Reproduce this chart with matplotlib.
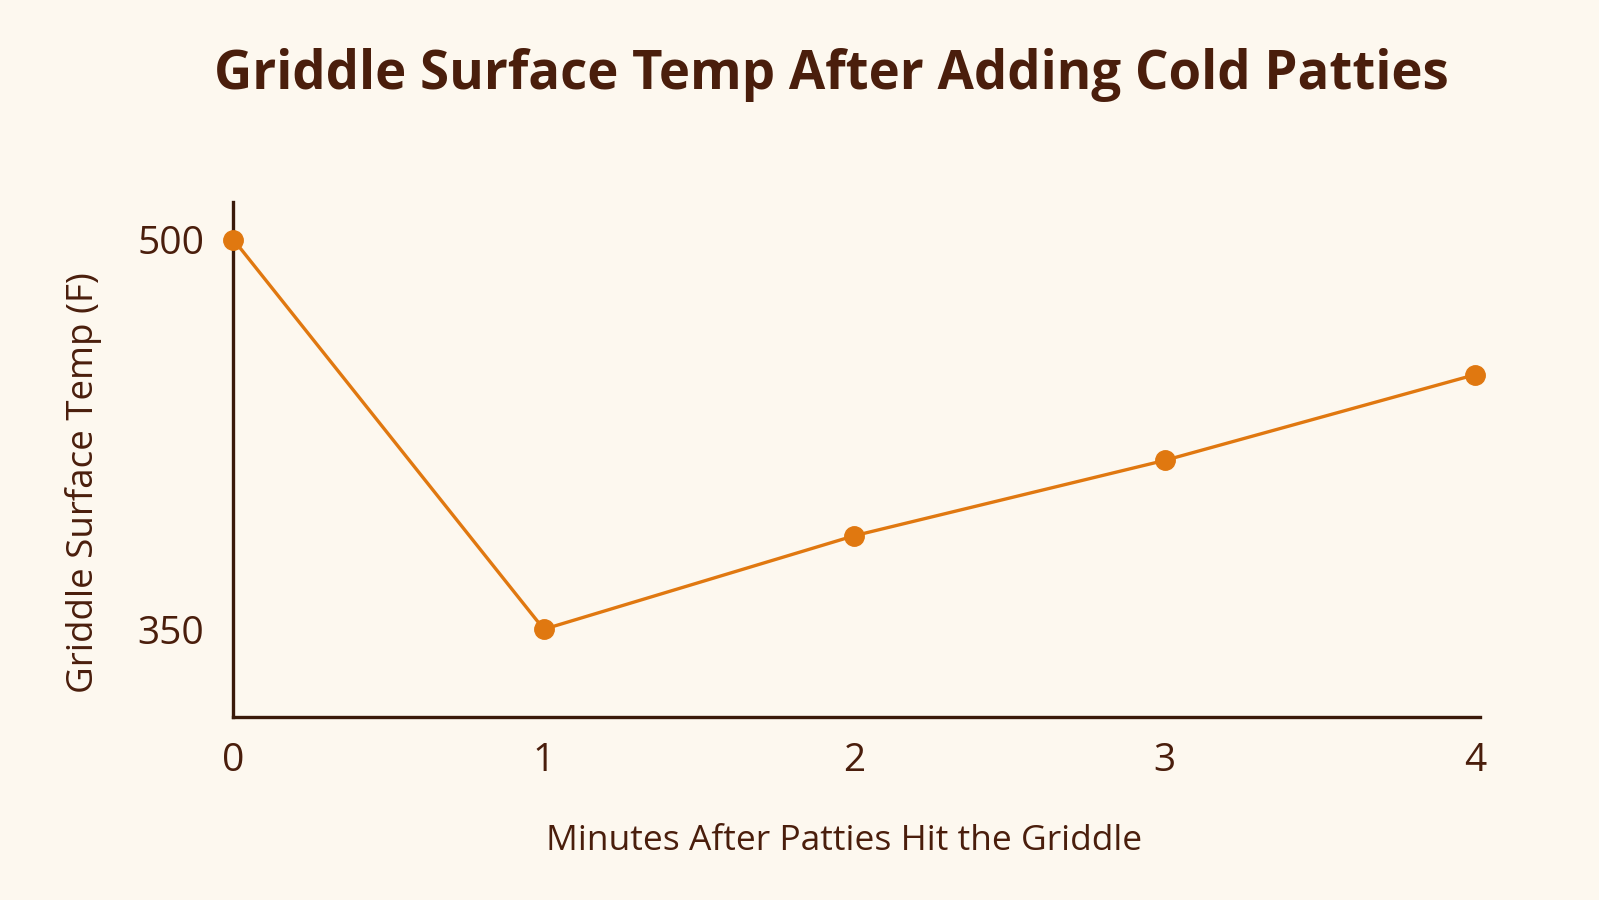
import matplotlib
matplotlib.use("Agg")
import matplotlib.pyplot as plt

minutes = [0, 1, 2, 3, 4]
temps = [500, 350, 386, 415, 448]
yticks = [350, 500]
xticks = [0, 1, 2, 3, 4]

BG = "#FDF8EF"
TXT = "#4A1E0C"
LINE = "#E07810"
SPINE = "#3A1A0A"

plt.rcParams['font.family'] = ['Open Sans', 'Noto Sans', 'DejaVu Sans']

fig = plt.figure(figsize=(15.99, 9.0), dpi=100, facecolor=BG)
ax = fig.add_axes([0.146, 0.2033, 0.9256 - 0.146, 0.7756 - 0.2033], facecolor=BG)

ax.plot(minutes, temps, color=LINE, lw=2.4, marker='o', markersize=14,
        markerfacecolor=LINE, markeredgecolor=LINE, clip_on=False, zorder=3)

ax.set_xlim(0, 4.016)
ax.set_ylim(316.2, 514.5)
ax.set_xticks(xticks)
ax.set_yticks(yticks)
ax.tick_params(length=0, labelsize=28, labelcolor=TXT)
ax.tick_params(axis='y', pad=21)
ax.tick_params(axis='x', pad=18)

for s in ['top', 'right']:
    ax.spines[s].set_visible(False)
for s in ['left', 'bottom']:
    ax.spines[s].set_color(SPINE)
    ax.spines[s].set_linewidth(2.4)

ax.set_xlabel("Minutes After Patties Hit the Griddle", fontsize=25.5, color=TXT)
ax.xaxis.label.set_va('center')
ax.xaxis.set_label_coords(0.49, -0.2416)
ax.set_ylabel("Griddle Surface Temp (F)", fontsize=26.5, color=TXT)
ax.yaxis.label.set_va('center')
ax.yaxis.set_label_coords(-0.120, 0.455)

fig.text(0.52, 0.917, "Griddle Surface Temp After Adding Cold Patties",
         ha='center', va='center', fontsize=38, fontweight='bold', color=TXT)

fig.savefig("out.png", dpi=100, facecolor=BG)
